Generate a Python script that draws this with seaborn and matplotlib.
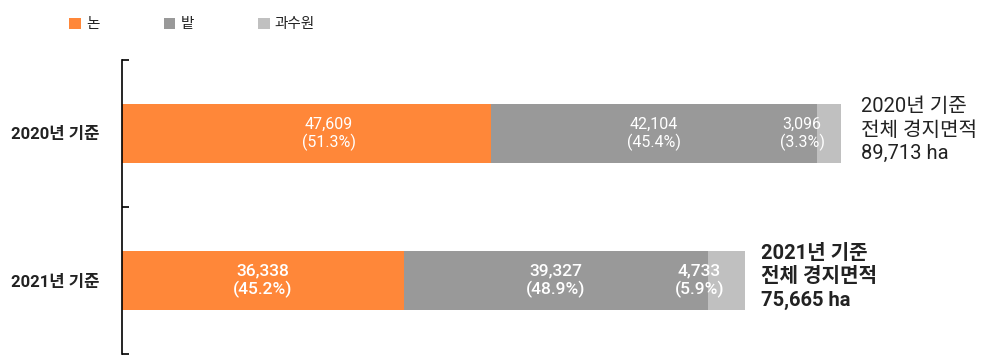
import matplotlib
matplotlib.use("Agg")
import matplotlib.pyplot as plt
from matplotlib.patches import Patch
import numpy as np
import pandas as pd
import seaborn as sns

# Cultivated land area by land use (ha)
years = ["2020년 기준", "2021년 기준"]
land_types = ["논", "밭", "과수원"]
paddy = [47609, 36338]
field = [42104, 39327]
orchard = [3096, 4733]
paddy_pct = [51.3, 45.2]
field_pct = [45.4, 48.9]
orchard_pct = [3.3, 5.9]
total_area = [89713, 75665]

colors = ["#FF8739", "#999999", "#C0C0C0"]
text_dark = "#222222"

sns.set_theme(style="white")
plt.rcParams["font.family"] = ["Roboto", "Noto Sans CJK KR", "DejaVu Sans"]

fig = plt.figure(figsize=(9.82, 3.56), dpi=100)
ax = fig.add_axes([122 / 982, 2 / 356, 838 / 982, 294 / 356])

segments = [paddy, field, orchard]
pcts = [paddy_pct, field_pct, orchard_pct]
cum = np.cumsum(np.array(segments, dtype=float), axis=0)

# Stacked bars: draw the longest cumulative bar first, shorter ones on top
for k in range(len(segments) - 1, -1, -1):
    df = pd.DataFrame({"연도": years, "면적": cum[k]})
    sns.barplot(data=df, x="면적", y="연도", orient="h", color=colors[k],
                saturation=1, width=0.4, ax=ax, linewidth=0)

ax.set_xlim(0, 108150)
ax.set_ylim(1.5, -0.5)

# Segment value labels
label_shift = [[16, 0, -19.5], [0, 0, -19.5]]   # points
label_weight = ["normal", "medium"]
label_size = [11.5, 12.5]
for i in range(len(years)):
    left = 0.0
    for k in range(len(segments)):
        val = segments[k][i]
        ax.annotate(f"{val:,}\n({pcts[k][i]}%)", xy=(left + val / 2, i),
                    xytext=(label_shift[i][k], 0), textcoords="offset points",
                    ha="center", va="center", color="white",
                    fontsize=label_size[i], fontweight=label_weight[i],
                    linespacing=1.15)
        left += val

# Total area annotations beside each bar
total_weight = ["normal", "bold"]
total_shift = [14, 11.5]
for i in range(len(years)):
    ax.annotate(f"{years[i]}\n전체 경지면적\n{total_area[i]:,} ha",
                xy=(cum[-1][i], i), xytext=(total_shift[i], 2.5),
                textcoords="offset points", ha="left", va="center",
                color=text_dark, fontsize=14.5,
                fontweight=total_weight[i], linespacing=1.3)

# Axis styling
for side in ["top", "right", "bottom"]:
    ax.spines[side].set_visible(False)
ax.spines["left"].set_color("black")
ax.spines["left"].set_linewidth(1.2)
ax.set_xticks([])
ax.set_xlabel("")
ax.set_ylabel("")
ax.set_yticks([0, 1])
ax.set_yticklabels(years, fontsize=12, fontweight="bold", color=text_dark)
ax.set_yticks([-0.5, 0.5, 1.5], minor=True)
ax.tick_params(axis="y", which="both", direction="in", length=5, width=1.2,
               color="black", left=True, pad=16)

# Legend
handles = [Patch(facecolor=c, edgecolor="none") for c in colors]
fig.legend(handles, land_types, loc="upper left",
           bbox_to_anchor=(62 / 982, 1 - 10 / 356), ncol=3, frameon=False,
           fontsize=10.5, handlelength=0.8, handleheight=0.8,
           handletextpad=0.35, columnspacing=4.4, borderpad=0,
           labelcolor=text_dark)

fig.savefig("out.png", dpi=100)
